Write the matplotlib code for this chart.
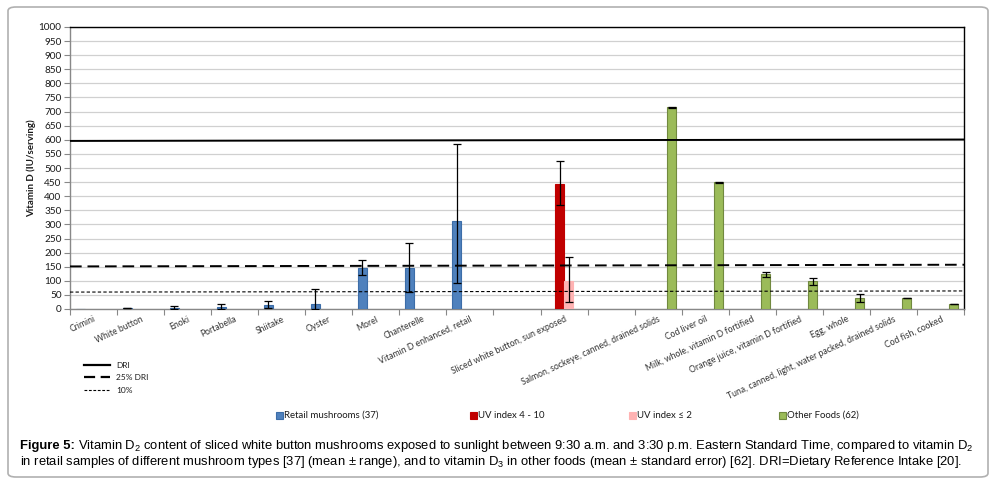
import matplotlib
matplotlib.use("Agg")
import matplotlib.pyplot as plt
import numpy as np
from matplotlib.patches import FancyBboxPatch
from matplotlib.lines import Line2D
from matplotlib.patches import Patch

categories = ["Crimini", "White button", "Enoki", "Portabella", "Shiitake", "Oyster",
              "Morel", "Chanterelle", "Vitamin D enhanced, retail", "",
              "Sliced white button, sun exposed", "",
              "Salmon, sockeye, canned, drained solids", "Cod liver oil",
              "Milk, whole, vitamin D fortified", "Orange juice, vitamin D fortified",
              "Egg, whole", "Tuna, canned, light, water packed, drained solids",
              "Cod fish, cooked"]

# Retail mushrooms (mean, low, high)
retail_idx = [0, 1, 2, 3, 4, 5, 6, 7, 8]
retail_val = [0, 2, 5, 8, 15, 19, 147, 147, 312]
retail_lo = [np.nan, 2, 0, 0, 2, 0, 120, 60, 92]
retail_hi = [np.nan, 3, 12, 18, 28, 71, 173, 233, 584]

# Sliced white button sun exposed
uvhigh_idx = [10]
uvhigh_val = [443]
uvhigh_lo = [368]
uvhigh_hi = [524]

uvlow_idx = [10]
uvlow_val = [100]
uvlow_lo = [25]
uvlow_hi = [184]

# Other foods (mean, lo, hi)
other_idx = [12, 13, 14, 15, 16, 17, 18]
other_val = [715, 449, 125, 99, 39, 39, 18]
other_lo = [714, 448, 113, 84, 25, 38, 17]
other_hi = [716, 450, 131, 110, 53, 40, 19]

# reference lines (value at left end, right end)
dri = [596, 601]
dri25 = [151, 157]
dri10 = [60, 64]

yticks = list(range(0, 1001, 50))

W, H = 993, 483
fig = plt.figure(figsize=(W / 100, H / 100), dpi=100)
fig.patch.set_facecolor("white")

# rounded frame
frame = FancyBboxPatch((8 / W, 6 / H), 980 / W, 470 / H,
                       boxstyle="round,pad=0,rounding_size=0.008",
                       transform=fig.transFigure, facecolor="none",
                       edgecolor="#b0b0b0", linewidth=1.2)
fig.patches.append(frame)

ax = fig.add_axes([70 / W, 1 - 309 / H, 894 / W, 282 / H])
cfont = "Lato"

n = len(categories)
x = np.arange(n)
bw = 0.19

def draw(idx, val, lo, hi, off, fc, ec):
    xs = np.array(idx) + off
    ax.bar(xs, val, width=bw, color=fc, edgecolor=ec, linewidth=0.8, zorder=3)
    v = np.array(val, float)
    lo = np.array(lo, float)
    hi = np.array(hi, float)
    m = ~np.isnan(lo)
    yerr = np.vstack([v[m] - lo[m], hi[m] - v[m]])
    ax.errorbar(xs[m], v[m], yerr=yerr, fmt="none", ecolor="black", elinewidth=0.9,
                capsize=3, capthick=0.9, zorder=4)

draw(retail_idx, retail_val, retail_lo, retail_hi, -1.5 * bw, "#4F81BD", "#3C6DA8")
draw(uvhigh_idx, uvhigh_val, uvhigh_lo, uvhigh_hi, -0.5 * bw, "#C00000", "#C00000")
draw(uvlow_idx, uvlow_val, uvlow_lo, uvlow_hi, 0.5 * bw, "#FFB3B3", "#FFB3B3")
draw(other_idx, other_val, other_lo, other_hi, 1.5 * bw, "#9BBB59", "#71893F")

xl = (-0.5, n - 0.5)
ax.plot(xl, dri, color="black", lw=1.4, zorder=5)
ax.plot(xl, dri25, color="black", lw=1.4, dashes=(6, 3), zorder=5)
ax.plot(xl, dri10, color="black", lw=0.8, dashes=(3, 2), zorder=5)

ax.set_xlim(*xl)
ax.set_ylim(0, 1000)
ax.set_yticks(yticks)
ax.set_yticklabels([str(t) for t in yticks], fontsize=7.2, family=cfont, color="#1a1a1a")
ax.yaxis.grid(True, color="#d0d0d0", lw=0.9, zorder=0)
ax.set_axisbelow(True)
ax.set_xticks(np.arange(n + 1) - 0.5, minor=False)
ax.set_xticklabels([])
ax.set_xticks(x, minor=True)
ax.set_xticklabels(categories, minor=True, rotation=25, ha="right",
                   rotation_mode="anchor", fontsize=6.2, family=cfont, color="#333333")
ax.tick_params(axis="x", which="minor", length=0, pad=4)
ax.tick_params(axis="x", which="major", length=4, color="#888888", direction="out")
ax.tick_params(axis="y", length=4, color="#888888", pad=2)
for s in ["left", "bottom"]:
    ax.spines[s].set_color("#888888")
    ax.spines[s].set_linewidth(1.0)
for s in ["top", "right"]:
    ax.spines[s].set_color("black")
    ax.spines[s].set_linewidth(1.0)

fig.text(31 / W, 1 - 168 / H, "Vitamin D (IU/serving)", rotation=90, ha="center",
         va="center", fontsize=7, fontweight="bold", family=cfont, color="#1a1a1a")

# line legend
for yy, ls, lw, lab in [(365, "-", 1.6, "DRI"), (377, (0, (5, 2.5)), 1.6, "25% DRI"),
                        (390, (0, (2.5, 1.5)), 0.8, "10%")]:
    fig.add_artist(Line2D([84 / W, 110 / W], [1 - yy / H, 1 - yy / H], color="black",
                          lw=lw, linestyle=ls, transform=fig.transFigure))
    fig.text(116 / W, 1 - (yy + 0.5) / H, lab, fontsize=6, family=cfont,
             va="center", ha="left", color="#1a1a1a")

# bar legend
handles = [Patch(facecolor="#4F81BD", edgecolor="#3C6DA8", label="Retail mushrooms (37)"),
           Patch(facecolor="#C00000", edgecolor="#C00000", label="UV index 4 - 10"),
           Patch(facecolor="#FFB3B3", edgecolor="#FFB3B3", label="UV index \u2264 2"),
           Patch(facecolor="#9BBB59", edgecolor="#71893F", label="Other Foods (62)")]
for hx, h in zip([276, 470, 629, 779], handles):
    fig.patches.append(plt.Rectangle((hx / W, 1 - 419 / H), 7 / W, 7 / H,
                                     facecolor=h.get_facecolor(), edgecolor=h.get_edgecolor(),
                                     lw=0.8, transform=fig.transFigure))
    fig.text((hx + 8) / W, 1 - 415 / H, h.get_label(), fontsize=6.9, family=cfont,
             va="center", ha="left", color="#1a1a1a")

# caption
plt.rcParams["mathtext.fontset"] = "custom"
plt.rcParams["mathtext.rm"] = "Liberation Sans"
plt.rcParams["mathtext.it"] = "Liberation Sans"
capfs = 9.37
cfam = "Liberation Sans"
t1 = fig.text(20 / W, 1 - 446 / H, "Figure 5:", fontsize=capfs, fontweight="bold",
              family=cfam, va="center", ha="left")
fig.canvas.draw()
r = fig.canvas.get_renderer()
bb = t1.get_window_extent(r)
fig.text((bb.x1 + 3) / W, 1 - 446 / H,
         "Vitamin D$_\\mathregular{2}$ content of sliced white button mushrooms exposed to sunlight between 9:30 a.m. and 3:30 p.m. Eastern Standard Time, compared to vitamin D$_\\mathregular{2}$",
         fontsize=capfs, family=cfam, va="center", ha="left")
fig.text(20 / W, 1 - 462 / H,
         "in retail samples of different mushroom types [37] (mean \u00b1 range), and to vitamin D$_\\mathregular{3}$ in other foods (mean \u00b1 standard error) [62]. DRI=Dietary Reference Intake [20].",
         fontsize=capfs, family=cfam, va="center", ha="left")

fig.savefig("out.png", dpi=100)
